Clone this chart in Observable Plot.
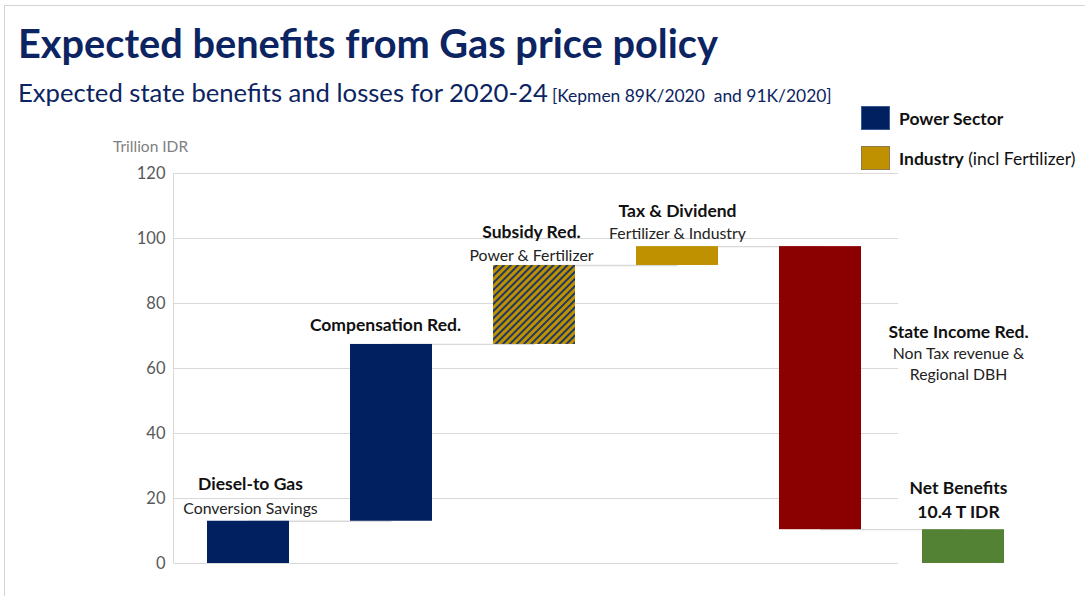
<!DOCTYPE html>
<html>
<head>
<meta charset="utf-8">
<script src="https://cdn.jsdelivr.net/npm/d3@7"></script>
<script src="https://cdn.jsdelivr.net/npm/@observablehq/plot@0.6"></script>
<style>
  html, body { margin: 0; padding: 0; background: #fff; }
  #wrap { position: relative; width: 1085px; height: 596px; overflow: hidden; font-family: Lato, "Open Sans", sans-serif; }
  #frame { position: absolute; left: 4px; top: 5px; width: 1300px; height: 800px; border-left: 1px solid #d4d4d4; border-top: 1px solid #d4d4d4; }
  #title { position: absolute; left: 18px; top: 23px; font-weight: 700; color: #0c2461; white-space: nowrap; line-height: 1; font-size: 34px; }
  #subtitle { position: absolute; left: 18px; top: 80px; color: #0c2461; white-space: nowrap; line-height: 1; }
  #sub1 { font-size: 22px; }
  #sub2 { font-size: 15px; }
  #ylabel { position: absolute; left: 113px; top: 137px; color: #7f7f7f; font-size: 15.5px; white-space: nowrap; }
  #legend { position: absolute; left: 861px; top: 105px; }
  .lg { display: flex; align-items: center; height: 26px; margin-bottom: 14px; white-space: nowrap; font-size: 17.5px; color: #111; }
  .sw { width: 29px; height: 24px; box-sizing: border-box; border: 1px solid #3b5a93; margin-right: 9px; flex: none; }
  #chart { position: absolute; left: 0; top: 110px; }
</style>
</head>
<body>
<div id="wrap">
  <div id="frame"></div>
  <div id="title">Expected benefits from Gas price policy</div>
  <div id="subtitle"><span id="sub1">Expected state benefits and losses for 2020-24</span> <span id="sub2">[Kepmen 89K/2020&nbsp; and 91K/2020]</span></div>
  <div id="ylabel">Trillion IDR</div>
  <div id="legend"></div>
  <div id="chart"></div>
</div>
<script>
// ---------- data ----------
const categories = ["Diesel-to Gas", "Compensation Red.", "Subsidy Red.", "Tax & Dividend", "State Income Red.", "Net Benefits"];
const subLabels = ["Conversion Savings", "", "Power & Fertilizer", "Fertilizer & Industry", "Non Tax revenue &\nRegional DBH", "10.4 T IDR"];
const changes = [13, 54.4, 24.3, 5.8, -87.1, 10.4]; // Trillion IDR; the last one is the net total
const groups = ["power", "power", "mixed", "industry", "loss", "net"];
const yTicks = [0, 20, 40, 60, 80, 100, 120];
const legendLabels = [["Power Sector", ""], ["Industry", "(incl Fertilizer)"]];

// ---------- styles ----------
const navy = "#002060", gold = "#bf9000";
const groupDomain = ["power", "mixed", "industry", "loss", "net"];
const groupColors = [navy, "url(#hatch)", gold, "#8b0000", "#548235"];
const legendColors = [navy, gold];
const legendBorders = ["#3b5a93", "#8c7a4a"];
const boldSize = 17.5, subSize = 15.8;
// label offsets (px) relative to the anchor value of each bar
const labelLayout = [
  {dyT: -37, dyS: -14, dx: 2},
  {dyT: -19, dyS: 0, dx: -6},
  {dyT: -33, dyS: -11, dx: -3},
  {dyT: -35, dyS: -14, dx: 0},
  {dyT: 86, dyS: 97, dx: 138, atStart: true, subTop: true},
  {dyT: -41, dyS: -19, dx: -5, subBold: true}
];

// ---------- derived waterfall rows ----------
let run = 0;
const rows = categories.map((cat, i) => {
  const total = i === categories.length - 1;
  const start = total ? 0 : run;
  const end = total ? changes[i] : run + changes[i];
  if (!total) run = end;
  return {cat, start, end, group: groups[i], sub: subLabels[i], i};
});
const connectors = rows.slice(0, -1).map((r, i) => ({from: r.cat, to: rows[i + 1].cat, y: r.end}));

// ---------- legend ----------
const legend = document.getElementById("legend");
legendLabels.forEach(([b, r], i) => {
  const d = document.createElement("div");
  d.className = "lg";
  d.innerHTML = `<div class="sw" style="background:${legendColors[i]};border-color:${legendBorders[i]}"></div><span><b>${b}</b>${r ? "&nbsp;" + r : ""}</span>`;
  legend.appendChild(d);
});

// ---------- marks ----------
const defsMark = () => {
  const defs = d3.create("svg:defs");
  const p = defs.append("pattern").attr("id", "hatch").attr("patternUnits", "userSpaceOnUse")
    .attr("width", 5).attr("height", 5).attr("patternTransform", "rotate(45)");
  p.append("rect").attr("width", 5).attr("height", 5).attr("fill", gold);
  p.append("rect").attr("width", 2).attr("height", 5).attr("fill", "#1f3864");
  return defs.node();
};
const axisLine = (index, scales, values, dims) => {
  const y = scales.y;
  return d3.create("svg:line")
    .attr("x1", dims.marginLeft - 1.5).attr("x2", dims.marginLeft - 1.5)
    .attr("y1", y(d3.max(yTicks))).attr("y2", y(0))
    .attr("stroke", "#d9d9d9").node();
};

const textMarks = [];
rows.forEach((r, i) => {
  const L = labelLayout[i];
  const yv = L.atStart ? "start" : "end";
  textMarks.push(Plot.text([r], {x: "cat", y: yv, text: "cat", dy: L.dyT, dx: L.dx, fontWeight: 700, fontSize: boldSize, fill: "#111", lineAnchor: "middle"}));
  if (r.sub) {
    textMarks.push(Plot.text([r], {x: "cat", y: yv, text: "sub", dy: L.dyS, dx: L.dx, fontWeight: L.subBold ? 700 : 400,
      fontSize: L.subBold ? boldSize : subSize, fill: L.subBold ? "#111" : "#222", lineAnchor: L.subTop ? "top" : "middle", lineHeight: 1.33}));
  }
});

const chart = Plot.plot({
  width: 1085,
  height: 486,
  marginTop: 63,
  marginBottom: 33,
  marginLeft: 175,
  marginRight: 50,
  style: {fontFamily: "Lato, 'Open Sans', sans-serif", background: "transparent", overflow: "visible"},
  x: {domain: categories, paddingInner: 0.427, paddingOuter: 0.21, axis: null},
  y: {domain: [0, 120], axis: null},
  color: {domain: groupDomain, range: groupColors},
  marks: [
    defsMark,
    Plot.ruleY(yTicks, {stroke: "#d9d9d9", strokeWidth: 1.2, insetRight: 137, insetLeft: -1.5}),
    axisLine,
    Plot.axisY({ticks: yTicks, tickSize: 0, tickPadding: 10, fontSize: 16.5, color: "#595959", label: null}),
    Plot.link(connectors, {x1: "from", x2: "to", y1: "y", y2: "y", stroke: "#d9d9d9", strokeWidth: 1.3}),
    Plot.barY(rows, {x: "cat", y1: "start", y2: "end", fill: "group"}),
    ...textMarks
  ]
});
document.getElementById("chart").appendChild(chart);

// fit title widths to the reference
function fitWidth(el, target) {
  const w = el.getBoundingClientRect().width;
  const fs = parseFloat(getComputedStyle(el).fontSize);
  el.style.fontSize = (fs * target / w) + "px";
}
fitWidth(document.getElementById("title"), 700);
fitWidth(document.getElementById("sub1"), 530);
fitWidth(document.getElementById("sub2"), 280);
</script>
</body>
</html>
